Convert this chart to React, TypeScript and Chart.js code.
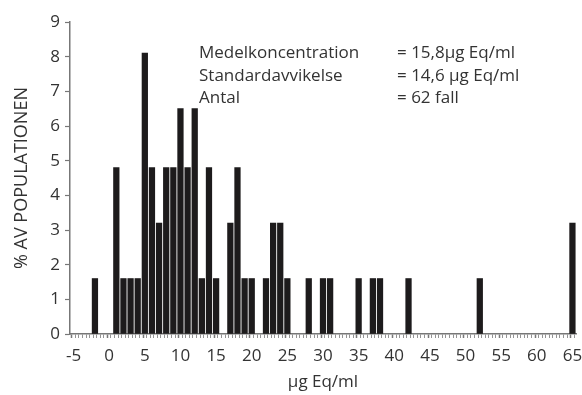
import React, { useEffect, useRef } from "react";
import { Chart, registerables } from "chart.js";

Chart.register(...registerables);

// Bin centres (µg Eq/ml) and share of population (%)
const binCentres = [-2, 1, 2, 3, 4, 5, 6, 7, 8, 9, 10, 11, 12, 13, 14, 15, 17, 18, 19, 20, 22, 23, 24, 25, 28, 30, 31, 35, 37, 38, 42, 52, 65];
const percentValues = [1.6, 4.8, 1.6, 1.6, 1.6, 8.1, 4.8, 3.2, 4.8, 4.8, 6.5, 4.8, 6.5, 1.6, 4.8, 1.6, 3.2, 4.8, 1.6, 1.6, 1.6, 3.2, 3.2, 1.6, 1.6, 1.6, 1.6, 1.6, 1.6, 1.6, 1.6, 1.6, 3.2];

const xTickLabels = [-5, 0, 5, 10, 15, 20, 25, 30, 35, 40, 45, 50, 55, 60, 65];
const yTickLabels = [0, 1, 2, 3, 4, 5, 6, 7, 8, 9];

const statLabels = ["Medelkoncentration", "Standardavvikelse", "Antal"];
const statValues = ["= 15,8µg Eq/ml", "= 14,6 µg Eq/ml", "= 62 fall"];

const xTitle = "µg Eq/ml";
const yTitle = "% AV POPULATIONEN";

const FONT = "'Open Sans', Lato, sans-serif";
const TEXT = "#333333";
const AXIS = "#777777";

const statsPlugin = {
  id: "stats",
  afterDraw(chart: any) {
    const ctx = chart.ctx;
    ctx.save();
    ctx.font = `17px ${FONT}`;
    ctx.fillStyle = TEXT;
    ctx.textBaseline = "alphabetic";
    ctx.textAlign = "left";
    const baselines = [58, 80.5, 103];
    statLabels.forEach((t, i) => ctx.fillText(t, 199, baselines[i]));
    statValues.forEach((t, i) => ctx.fillText(t, 397, baselines[i]));
    ctx.restore();
  },
};

export default function App() {
  const ref = useRef<HTMLCanvasElement | null>(null);
  useEffect(() => {
    document.body.style.margin = "0";
    if (!ref.current) return;
    const chart = new Chart(ref.current, {
      type: "bar",
      data: {
        datasets: [
          {
            data: binCentres.map((x, i) => ({ x, y: percentValues[i] })),
            backgroundColor: "#1d1b1c",
            borderWidth: 0,
            barThickness: 5.6,
          },
        ],
      },
      options: {
        animation: false,
        responsive: false,
        layout: { padding: { top: 22, right: 6, left: 0, bottom: 0 } },
        plugins: { legend: { display: false }, tooltip: { enabled: false } },
        scales: {
          x: {
            type: "linear",
            min: -5.5,
            max: 65.5,
            offset: false,
            afterBuildTicks(scale: any) {
              const ticks: any[] = [];
              for (let v = -5.5; v <= 65.5 + 1e-9; v += 0.5) ticks.push({ value: v });
              scale.ticks = ticks;
            },
            afterFit(scale: any) {
              scale.height = 61;
              scale.paddingLeft = 0;
              scale.paddingRight = 0;
            },
            ticks: {
              autoSkip: false,
              maxRotation: 0,
              padding: 8,
              color: TEXT,
              font: { family: FONT, size: 17 },
              callback: (v: any) => (xTickLabels.includes(Number(v)) ? String(v) : ""),
            },
            grid: {
              drawOnChartArea: false,
              drawTicks: true,
              tickLength: 4,
              color: AXIS,
              tickWidth: (c: any) => (c.tick && xTickLabels.includes(c.tick.value) ? 1.5 : 0.8),
            },
            border: { display: true, color: AXIS, width: 1.5 },
            title: {
              display: true,
              text: xTitle,
              color: TEXT,
              font: { family: FONT, size: 17 },
              padding: { top: 0, bottom: 3 },
            },
          },
          y: {
            min: 0,
            max: 9,
            afterBuildTicks(scale: any) {
              scale.ticks = yTickLabels.map((v) => ({ value: v }));
            },
            afterFit(scale: any) {
              scale.width = 70;
            },
            ticks: {
              padding: 5,
              color: TEXT,
              font: { family: FONT, size: 17 },
            },
            grid: {
              drawOnChartArea: false,
              drawTicks: true,
              tickLength: 5,
              color: AXIS,
              tickWidth: 1.2,
            },
            border: { display: true, color: AXIS, width: 1.5 },
            title: {
              display: true,
              text: yTitle,
              color: TEXT,
              font: { family: FONT, size: 18 },
              padding: { top: 11, bottom: 0 },
            },
          },
        },
      },
      plugins: [statsPlugin],
    } as any);
    return () => chart.destroy();
  }, []);
  return (
    <div style={{ position: "absolute", left: 0, top: 0, width: 582, height: 395, background: "#fff" }}>
      <canvas ref={ref} width={582} height={395} />
    </div>
  );
}
